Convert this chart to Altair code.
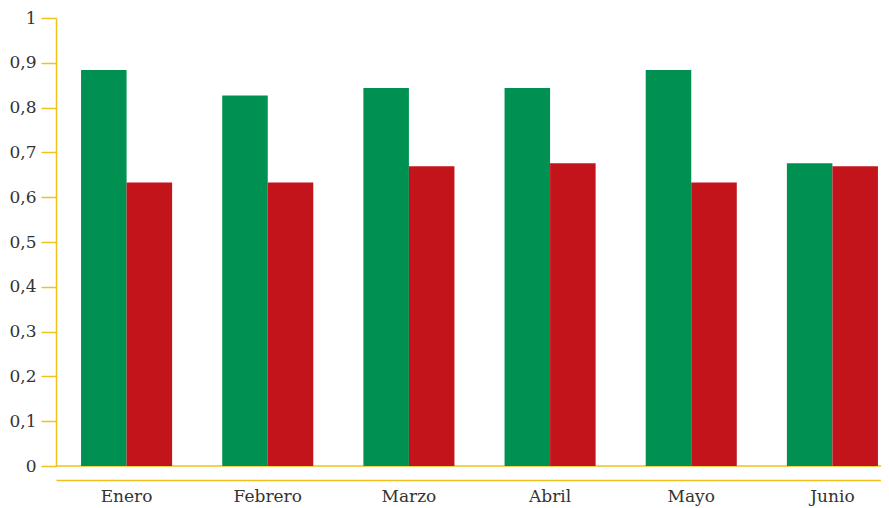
import altair as alt
import pandas as pd

months = ["Enero", "Febrero", "Marzo", "Abril", "Mayo", "Junio"]
serie_verde = [0.884, 0.827, 0.844, 0.844, 0.884, 0.676]
serie_roja = [0.633, 0.633, 0.669, 0.676, 0.633, 0.669]
series_names = ["A", "B"]

rows = []
for m, g, r in zip(months, serie_verde, serie_roja):
    rows.append({"mes": m, "serie": "A", "valor": g})
    rows.append({"mes": m, "serie": "B", "valor": r})
df = pd.DataFrame(rows)

YELLOW = "#EFC21A"
FONT = "DejaVu Serif"
TEXT = "#333333"

bars = alt.Chart(df).mark_bar().encode(
    x=alt.X("mes:N", sort=months, title=None,
            scale=alt.Scale(range=[0, 847], paddingInner=0.355, paddingOuter=0.1775),
            axis=alt.Axis(offset=14, ticks=False, domainColor=YELLOW, domainWidth=1.5,
                          labelAngle=0, labelFont=FONT, labelFontSize=17,
                          labelColor=TEXT, labelPadding=8)),
    xOffset=alt.XOffset("serie:N", sort=series_names, scale=alt.Scale(paddingInner=0, paddingOuter=0)),
    y=alt.Y("valor:Q", title=None,
            scale=alt.Scale(domain=[0, 1], nice=False),
            axis=alt.Axis(values=[0, 0.1, 0.2, 0.3, 0.4, 0.5, 0.6, 0.7, 0.8, 0.9, 1],
                          labelExpr="replace(format(datum.value, '.1~f'), '.', ',')",
                          grid=False, domainColor=YELLOW, domainWidth=1.5,
                          tickColor=YELLOW, tickSize=15, tickWidth=1.5,
                          labelFont=FONT, labelFontSize=17, labelColor=TEXT,
                          labelPadding=5)),
    color=alt.Color("serie:N", scale=alt.Scale(domain=series_names, range=["#009152", "#C3141C"]),
                    legend=None),
)

zero = alt.Chart(pd.DataFrame({"y": [0]})).mark_rule(color=YELLOW, strokeWidth=1.5).encode(
    y=alt.Y("y:Q")
)

chart = alt.layer(zero, bars).properties(
    width=825, height=448,
    autosize=alt.AutoSizeParams(type="none"),
    padding={"left": 48, "top": 10, "right": 0, "bottom": 40},
).configure_view(stroke=None)

chart.save("out.html", embed_options={"renderer": "svg", "actions": False})
